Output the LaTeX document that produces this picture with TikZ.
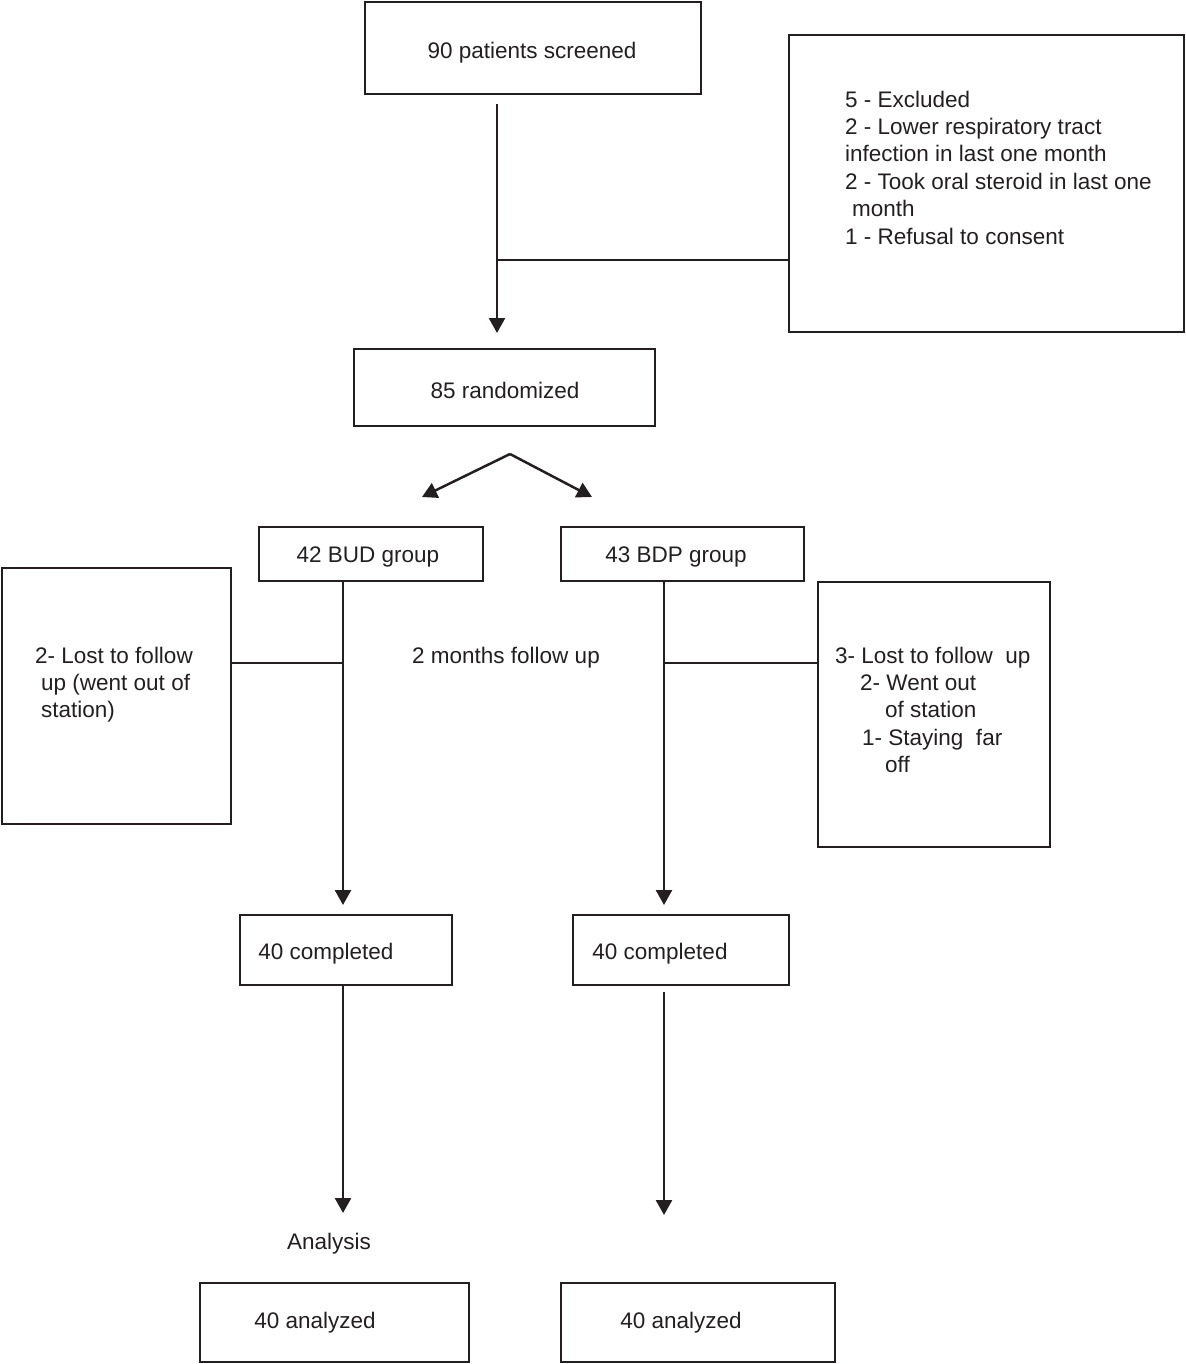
\documentclass[tikz,border=0pt]{standalone}
\usepackage{fontspec}
\setmainfont{Liberation Sans}
\usetikzlibrary{arrows.meta}
\definecolor{ink}{RGB}{35,31,32}
\begin{document}
\begin{tikzpicture}[x=1pt,y=-1pt,
  box/.style={draw=ink, line width=2.5pt, inner sep=0pt, outer sep=0pt},
  txt/.style={font=\fontsize{22.5}{27.4}\selectfont, text=ink, inner sep=0pt},
  conn/.style={draw=ink, line width=2.5pt},
  arr/.style={conn, -{Triangle[width=16pt,length=15pt]}}]
\useasboundingbox (0,0) rectangle (1185,1364);
% boxes
\node[box, minimum width=336pt, minimum height=92pt] (screen) at (533,48) {};
\node[box, minimum width=395pt, minimum height=297pt] (excl) at (986.5,183.5) {};
\node[box, minimum width=301pt, minimum height=77pt] (rand) at (504.5,387.5) {};
\node[box, minimum width=224pt, minimum height=54pt] (bud) at (371,554) {};
\node[box, minimum width=243pt, minimum height=54pt] (bdp) at (682.5,554) {};
\node[box, minimum width=229pt, minimum height=256pt] (lostA) at (116.5,696) {};
\node[box, minimum width=232pt, minimum height=265pt] (lostB) at (934,714.5) {};
\node[box, minimum width=212pt, minimum height=70pt] (compA) at (346,950) {};
\node[box, minimum width=216pt, minimum height=70pt] (compB) at (681,950) {};
\node[box, minimum width=269pt, minimum height=79pt] (anaA) at (334.5,1322.5) {};
\node[box, minimum width=274pt, minimum height=79pt] (anaB) at (698,1322.5) {};
% texts
\node[txt] (tscreen) at (532,53) {90 patients screened};
\node[txt] (trand) at (505,390.5) {85 randomized};
\node[txt] (tbud) at (368,557) {42 BUD group};
\node[txt] (tbdp) at (676,557) {43 BDP group};
\node[txt] (tfollow) at (506,658) {2 months follow up};
\node[txt] (tcompA) at (326,953.5) {40 completed};
\node[txt] (tcompB) at (660,953.5) {40 completed};
\node[txt] (tanalysis) at (329,1243.5) {Analysis};
\node[txt] (tanaA) at (315,1322.5) {40 analyzed};
\node[txt] (tanaB) at (681,1322.5) {40 analyzed};
\node[txt, align=left, anchor=north west] (texcl) at (845,90.5)
  {5 - Excluded\\2 - Lower respiratory tract\\infection in last one month\\2 - Took oral steroid in last one\\\hspace*{7pt}month\\1 - Refusal to consent};
\node[txt, align=left, anchor=north west] (tlostA) at (35,646.5)
  {2- Lost to follow\\\hspace*{6pt}up (went out of\\\hspace*{6pt}station)};
\node[txt, align=left, anchor=north west] (tlostB) at (835,646.5)
  {3- Lost to follow~~up\\\hspace*{25pt}2- Went out\\\hspace*{50pt}of station\\\hspace*{27pt}1- Staying~~far\\\hspace*{50pt}off};
% connector coordinates
\coordinate (s1) at (497,104);
\coordinate (s2) at (497,333);
\coordinate (sj) at (497,260);
\coordinate (apex) at (510,454);
\coordinate (bl) at (422,497);
\coordinate (br) at (592,497);
\coordinate (a1) at (343,905);
\coordinate (aj) at (343,663);
\coordinate (b0) at (664,581);
\coordinate (b1) at (664,905);
\coordinate (bj) at (664,663);
\coordinate (c1) at (343,1213);
\coordinate (d0) at (664,992);
\coordinate (d1) at (664,1215);
% connectors
\draw[arr] (s1) -- (s2);
\draw[conn] (sj) -- (excl.west |- sj);
\draw[arr] (apex) -- (bl);
\draw[arr] (apex) -- (br);
\draw[arr] (bud.south -| a1) -- (a1);
\draw[conn] (lostA.east |- aj) -- (aj);
\draw[arr] (b0) -- (b1);
\draw[conn] (bj) -- (lostB.west |- bj);
\draw[arr] (compA.south -| c1) -- (c1);
\draw[arr] (d0) -- (d1);
\end{tikzpicture}
\end{document}
